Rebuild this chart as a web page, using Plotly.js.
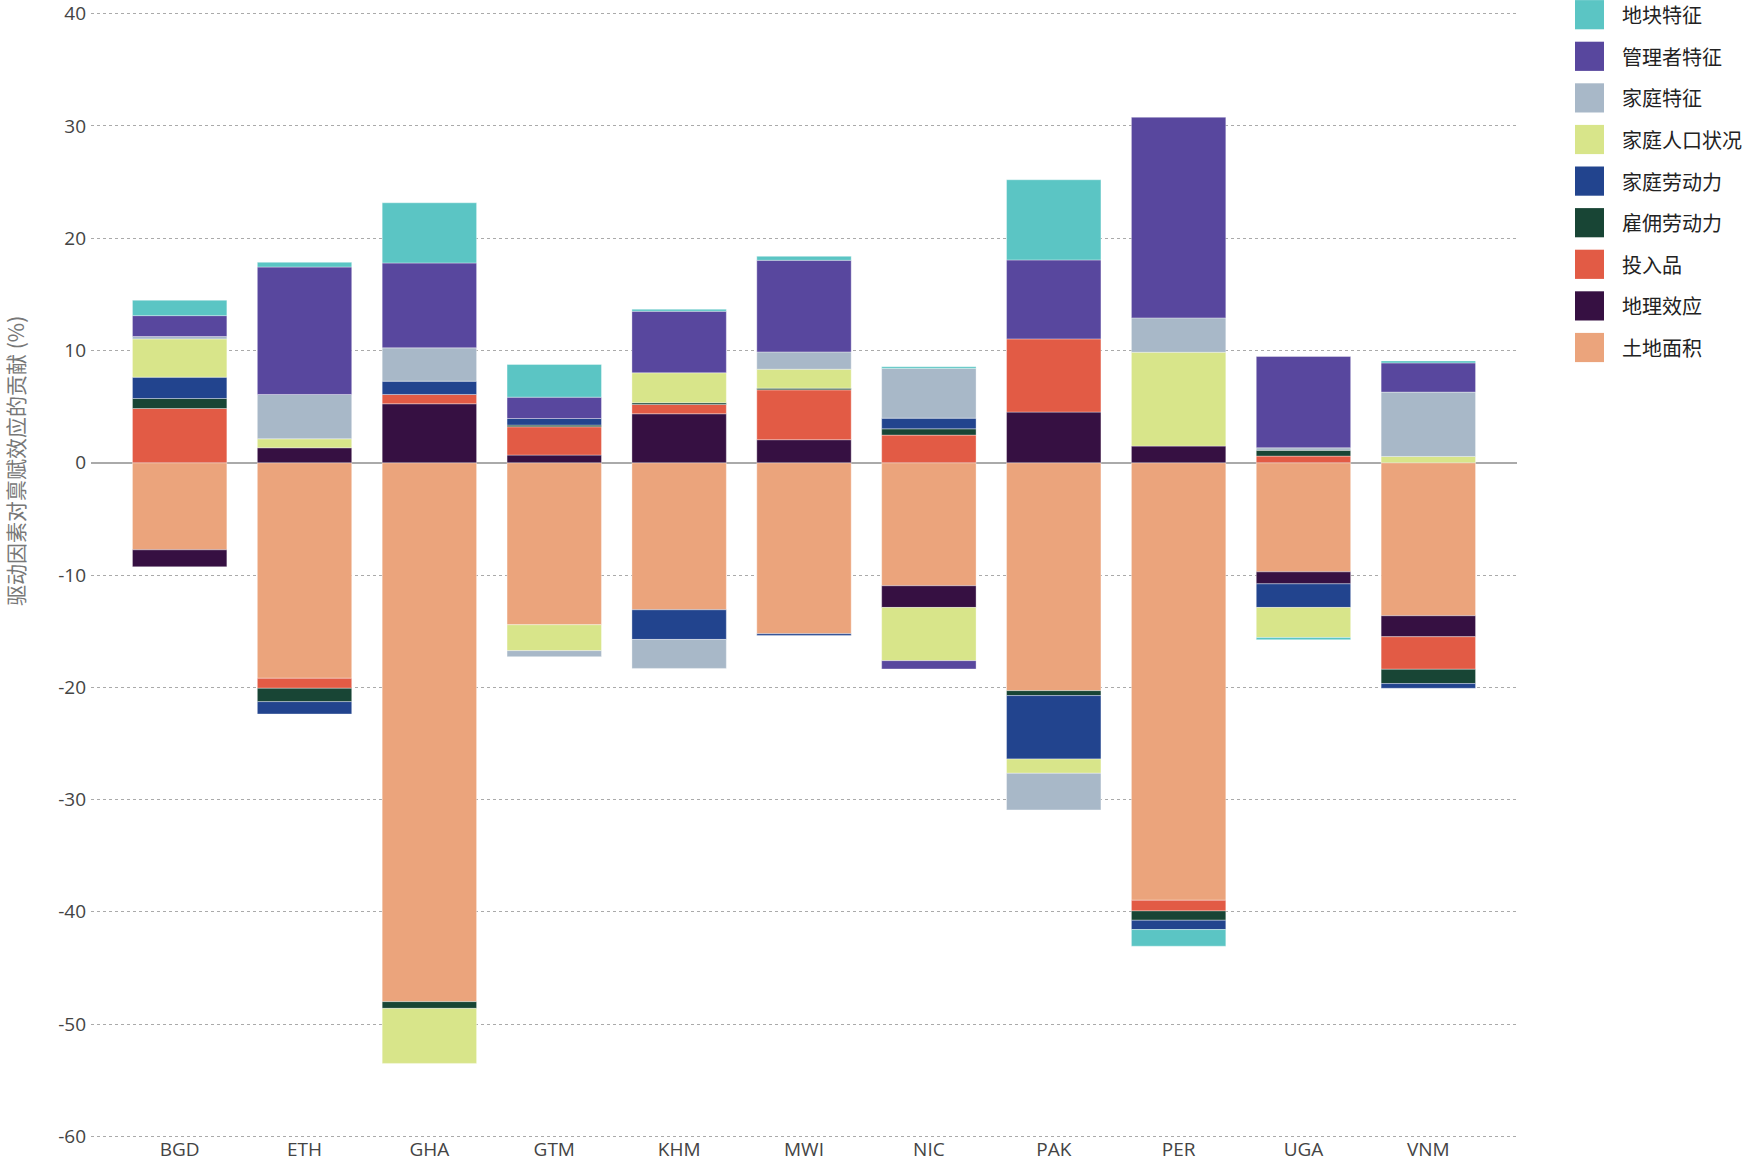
<!DOCTYPE html>
<html>
<head>
<meta charset="utf-8">
<script src="https://cdn.plot.ly/plotly-3.0.1.min.js"></script>
<style>
html,body{margin:0;padding:0;background:#fff;}
#chart{width:1742px;height:1166px;}
</style>
</head>
<body>
<div id="chart"></div>
<script>
// ---- data ----
const countries = ['BGD','ETH','GHA','GTM','KHM','MWI','NIC','PAK','PER','UGA','VNM'];

// stacking order (first = closest to zero)
const landArea      = [-7.76, -19.2, -48.0, -14.43, -13.1, -15.23, -10.96, -20.3, -38.97, -9.72, -13.63]; // 土地面积
const geoEffect     = [-1.51, 1.33, 5.25, 0.68, 4.36, 2.05, -1.93, 4.51, 1.48, -1.07, -1.87];           // 地理效应
const inputs        = [4.83, -0.89, 0.83, 2.52, 0.83, 4.44, 2.46, 6.52, -0.95, 0.59, -2.9];             // 投入品
const hiredLabor    = [0.89, -1.19, -0.6, 0.15, 0.15, 0.15, 0.56, -0.44, -0.83, 0.51, -1.27];           // 雇佣劳动力
const familyLabor   = [1.90, -1.10, 1.18, 0.59, -2.64, -0.15, 0.95, -5.65, -0.83, -2.10, -0.42];        // 家庭劳动力
const hhDemography  = [3.41, 0.80, -4.9, -2.31, 2.67, 1.69, -4.74, -1.27, 8.36, -2.67, 0.56];           // 家庭人口状况
const hhCharacter   = [0.21, 3.95, 2.97, -0.53, -2.58, 1.54, 4.42, -3.26, 3.06, 0.23, 5.73];            // 家庭特征
const managerChar   = [1.86, 11.35, 7.56, 1.90, 5.48, 8.16, -0.74, 7.03, 17.87, 8.13, 2.60];           // 管理者特征
const plotChar      = [1.37, 0.42, 5.36, 2.91, 0.18, 0.35, 0.15, 7.14, -1.48, -0.2, 0.18];              // 地块特征

const seriesNames  = ['土地面积','地理效应','投入品','雇佣劳动力','家庭劳动力','家庭人口状况','家庭特征','管理者特征','地块特征'];
const seriesValues = [landArea, geoEffect, inputs, hiredLabor, familyLabor, hhDemography, hhCharacter, managerChar, plotChar];
const seriesColors = ['#EBA47C','#361042','#E25B45','#184535','#22448E','#D8E58A','#A8B8C8','#58479E','#5BC5C4'];

const yTicks = [40,30,20,10,0,-10,-20,-30,-40,-50,-60];

// ---- traces ----
const traces = seriesNames.map((n,i)=>({
  type:'bar',
  name:n,
  x:countries,
  y:seriesValues[i],
  marker:{color:seriesColors[i], line:{color:'rgba(255,255,255,0.35)', width:1}},
  showlegend:false,
  hoverinfo:'x+y+name'
}));

// ---- layout geometry (pixels) ----
const W=1742, H=1166;
const mL=91, mR=225, mT=8, mB=24;
const pw=W-mL-mR, ph=H-mT-mB;
const px2x = p => (p-mL)/pw;
const py2y = p => (H-mB-p)/ph;

// manual legend (top = 地块特征)
const shapes=[], annotations=[];
const legOrder = seriesNames.map((n,i)=>i).reverse();
legOrder.forEach((si,row)=>{
  const cy = 14.7 + row*41.6;
  shapes.push({type:'rect', xref:'paper', yref:'paper',
    x0:px2x(1575), x1:px2x(1604), y0:py2y(cy+14.6), y1:py2y(cy-14.6),
    fillcolor:seriesColors[si], line:{width:0}});
  annotations.push({xref:'paper', yref:'paper', x:px2x(1620), y:py2y(cy),
    xanchor:'left', yanchor:'middle', showarrow:false, text:seriesNames[si],
    font:{family:'Noto Sans CJK SC, Noto Sans, sans-serif', size:20, color:'#222'}});
});

// y-axis title as annotation
annotations.push({xref:'paper', yref:'paper', x:px2x(15), y:py2y(461),
  xanchor:'center', yanchor:'middle', showarrow:false, textangle:-90,
  text:'驱动因素对禀赋效应的贡献 (%)',
  font:{family:'Noto Sans CJK SC, Noto Sans, sans-serif', size:21, color:'#777'}});

const layout = {
  width:W, height:H,
  margin:{l:mL, r:mR, t:mT, b:mB, pad:0},
  paper_bgcolor:'#fff', plot_bgcolor:'#fff',
  barmode:'relative',
  bargap:0.244,
  showlegend:false,
  xaxis:{
    type:'category',
    range:[-0.71, 10.71],
    showgrid:false, showline:false, zeroline:false, ticks:'',
    ticklabelstandoff:-6,
    tickfont:{family:'Open Sans, Noto Sans, sans-serif', size:19, color:'#444'},
    fixedrange:true
  },
  yaxis:{
    range:[-60.5, 40.5],
    tickvals:yTicks,
    ticktext:yTicks.map(String),
    showgrid:true, gridcolor:'#aaa', gridwidth:1, griddash:'dot',
    zeroline:true, zerolinecolor:'#aaa', zerolinewidth:2,
    showline:false, ticks:'', ticklabelstandoff:4,
    tickfont:{family:'Open Sans, Noto Sans, sans-serif', size:19, color:'#444'},
    fixedrange:true
  },
  shapes:shapes,
  annotations:annotations
};

Plotly.newPlot('chart', traces, layout, {displayModeBar:false, staticPlot:true});
</script>
</body>
</html>
